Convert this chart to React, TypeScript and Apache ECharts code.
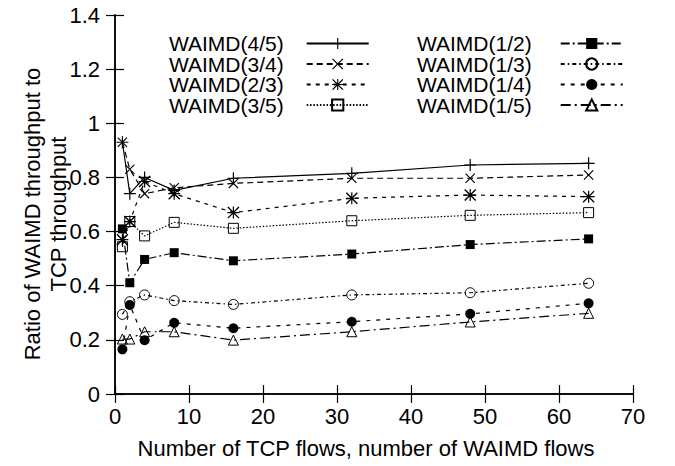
import React, { useEffect, useRef } from 'react';
import * as echarts from 'echarts';

// Number of TCP flows (= number of WAIMD flows)
const flows = [1, 2, 4, 8, 16, 32, 48, 64];

// Ratio of WAIMD throughput to TCP throughput
const waimd45 = [0.93, 0.74, 0.8, 0.752, 0.797, 0.815, 0.846, 0.852];
const waimd34 = [0.93, 0.83, 0.74, 0.762, 0.778, 0.797, 0.797, 0.809];
const waimd23 = [0.57, 0.637, 0.785, 0.74, 0.67, 0.723, 0.735, 0.729];
const waimd35 = [0.544, 0.637, 0.584, 0.634, 0.612, 0.64, 0.66, 0.67];
const waimd12 = [0.61, 0.411, 0.497, 0.522, 0.492, 0.517, 0.552, 0.573];
const waimd13 = [0.294, 0.341, 0.366, 0.345, 0.331, 0.366, 0.374, 0.409];
const waimd14 = [0.165, 0.329, 0.199, 0.263, 0.243, 0.267, 0.296, 0.335];
const waimd15 = [0.203, 0.203, 0.23, 0.23, 0.199, 0.23, 0.266, 0.298];

const seriesNames = [
  'WAIMD(4/5)', 'WAIMD(3/4)', 'WAIMD(2/3)', 'WAIMD(3/5)',
  'WAIMD(1/2)', 'WAIMD(1/3)', 'WAIMD(1/4)', 'WAIMD(1/5)',
];
const seriesValues = [waimd45, waimd34, waimd23, waimd35, waimd12, waimd13, waimd14, waimd15];

const xAxisMin = 0;
const xAxisMax = 70;
const xAxisStep = 10;
const yAxisMin = 0;
const yAxisMax = 1.4;
const yAxisStep = 0.2;

const xTitle = 'Number of TCP flows, number of WAIMD flows';
const yTitle = 'Ratio of WAIMD throughput to\nTCP throughput';

const FONT = "'Liberation Sans', Arial, Helvetica, sans-serif";

const PLUS = 'M4.5,0H5.5V4.5H10V5.5H5.5V10H4.5V5.5H0V4.5H4.5Z';
const CROSS = 'M0,0.8L0.8,0L10,9.2L9.2,10ZM10,0.8L0.8,10L0,9.2L9.2,0Z';

const filled = { color: '#000', borderWidth: 0 };
const hollow = { color: 'rgba(0,0,0,0)', borderColor: '#000', borderWidth: 1 };

const styles: any[] = [
  { symbol: 'path://' + PLUS, size: 12, item: filled, dash: 'solid' },
  { symbol: 'path://' + CROSS, size: 10, item: filled, dash: [6, 4] },
  { symbol: 'path://' + PLUS + CROSS, size: 12, item: filled, dash: [4, 5] },
  { symbol: 'rect', size: 10, item: hollow, dash: [1.5, 1.8] },
  { symbol: 'rect', size: 9, item: filled, dash: [9, 3, 2, 3] },
  { symbol: 'circle', size: 10, item: hollow, dash: [4, 3, 1.5, 3] },
  { symbol: 'circle', size: 10, item: filled, dash: [4, 6] },
  { symbol: 'triangle', size: 10, item: hollow, dash: [10, 4, 2, 4] },
];

export default function App() {
  const ref = useRef<HTMLDivElement>(null);

  useEffect(() => {
    if (!ref.current) return;
    const chart = echarts.init(ref.current, undefined, { renderer: 'svg' });

    const series = seriesNames.map((name, i) => ({
      name,
      type: 'line',
      xAxisIndex: 0,
      yAxisIndex: 0,
      data: flows.map((f, j) => [f, seriesValues[i][j]]),
      symbol: styles[i].symbol,
      symbolSize: styles[i].size,
      showAllSymbol: true,
      itemStyle: styles[i].item,
      lineStyle: { color: '#000', width: 1.2, type: styles[i].dash },
      emphasis: { disabled: true },
      z: 2,
    }));

    const axisCommon = {
      axisLine: { show: true, lineStyle: { color: '#000', width: 1.5 } },
      axisTick: { show: true, inside: true, length: 9, lineStyle: { color: '#000', width: 1.2 } },
      splitLine: { show: false },
    };

    const legendCommon = {
      orient: 'vertical',
      align: 'right',
      padding: 0,
      itemGap: -0.5,
      itemWidth: 62,
      itemHeight: 14,
      top: 33,
      selectedMode: false,
    };

    chart.setOption({
      animation: false,
      backgroundColor: '#fff',
      textStyle: { fontFamily: FONT, color: '#000' },
      grid: { left: 115, right: 42, top: 15, bottom: 72 },
      xAxis: [
        {
          type: 'value', min: xAxisMin, max: xAxisMax, interval: xAxisStep,
          ...axisCommon,
          axisLabel: { show: true, color: '#000', fontSize: 22, fontFamily: FONT, margin: 11 },
        },
        {
          type: 'value', position: 'top', min: xAxisMin, max: xAxisMax, interval: xAxisStep,
          ...axisCommon,
          axisLabel: { show: false },
        },
      ],
      yAxis: [
        {
          type: 'value', min: yAxisMin, max: yAxisMax, interval: yAxisStep,
          ...axisCommon,
          axisLabel: {
            show: true, color: '#000', fontSize: 22, fontFamily: FONT, margin: 15,
            formatter: (v: number) => String(+v.toFixed(1)),
          },
        },
        {
          type: 'value', position: 'right', min: yAxisMin, max: yAxisMax, interval: yAxisStep,
          ...axisCommon,
          axisLabel: { show: false },
        },
      ],
      legend: [
        {
          ...legendCommon,
          left: 169,
          data: seriesNames.slice(0, 4),
          textStyle: { fontSize: 21, fontFamily: FONT, color: '#000', lineHeight: 20, padding: [0, 18, 0, 0] },
        },
        {
          ...legendCommon,
          left: 417,
          data: seriesNames.slice(4),
          textStyle: { fontSize: 21, fontFamily: FONT, color: '#000', lineHeight: 20, padding: [0, 24, 0, 0] },
        },
      ],
      graphic: [
        {
          type: 'text',
          x: 366,
          y: 448,
          style: { text: xTitle, font: `22px ${FONT}`, fill: '#000', align: 'center', verticalAlign: 'middle' },
        },
        {
          type: 'text',
          x: 45,
          y: 214,
          rotation: Math.PI / 2,
          style: {
            text: yTitle, font: `22px ${FONT}`, fill: '#000', align: 'center',
            verticalAlign: 'middle', lineHeight: 26,
          },
        },
      ],
      series,
    });

    return () => chart.dispose();
  }, []);

  return (
    <div
      ref={ref}
      style={{ position: 'fixed', left: 0, top: 0, width: 675, height: 466, background: '#fff' }}
    />
  );
}
